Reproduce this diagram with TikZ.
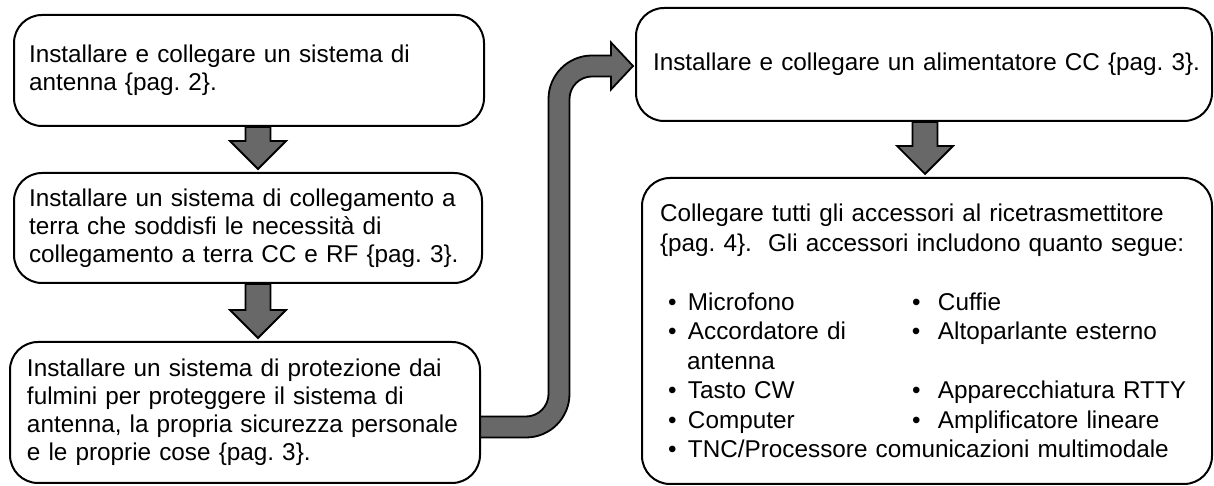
\documentclass[tikz,border=0pt]{standalone}
\usepackage{fontspec}
\setmainfont{Liberation Sans}
\usetikzlibrary{calc}
\pgfdeclarelayer{background}
\pgfsetlayers{background,main}
\definecolor{arrowgray}{RGB}{104,104,104}
\frenchspacing
\tikzset{
  stepbox/.style={draw=black, line width=2pt, fill=white, rounded corners=28pt,
    align=left, inner ysep=0pt, font=\fontsize{24.3}{28}\selectfont},
  fatarrow/.style={draw=black, fill=arrowgray, line width=1.8pt, line join=miter},
}
\newcommand\fatdown[3]{%
  \draw[fatarrow] let \p1=($(#1.south)+(#3,0)$), \p2=(#2.north) in
    (\x1-12.5pt,\y1) -- (\x1-12.5pt,\y2+31pt) -- (\x1-28pt,\y2+31pt) -- (\x1,\y2+3pt)
    -- (\x1+28pt,\y2+31pt) -- (\x1+12.5pt,\y2+31pt) -- (\x1+12.5pt,\y1) -- cycle;}
\newcommand\bitem[2]{\hspace*{8pt}\makebox[20pt][l]{•}\makebox[224pt][l]{#1}\makebox[26pt][l]{•}#2}
\begin{document}
\begin{tikzpicture}
\useasboundingbox (0pt,0pt) rectangle (1214pt,486pt);
\node[stepbox, minimum width=470pt, minimum height=111pt, text width=440pt, inner xsep=15pt]
  (b1) at (249pt,415.5pt) {Installare e collegare un sistema di\\antenna \{pag. 2\}.};
\node[stepbox, minimum width=468pt, minimum height=110pt, text width=438pt, inner xsep=15pt]
  (b2) at (248pt,258pt) {Installare un sistema di collegamento a\\terra che soddisfi le necessità di\\collegamento a terra CC e RF \{pag. 3\}.};
\node[stepbox, minimum width=470pt, minimum height=141pt, text width=436pt, inner xsep=17pt]
  (b3) at (245pt,73.5pt) {Installare un sistema di protezione dai\\fulmini per proteggere il sistema di\\antenna, la propria sicurezza personale\\e le proprie cose \{pag. 3\}.};
\node[stepbox, minimum width=576pt, minimum height=113pt, text width=542pt, inner xsep=17pt]
  (b4) at (924pt,421.5pt) {\mbox{Installare e collegare un alimentatore CC \{pag. 3\}.}};
\node[stepbox, minimum width=570pt, minimum height=306pt, text width=534pt, inner xsep=18pt,
  font=\fontsize{24.3}{29.5}\selectfont]
  (b5) at (927pt,155pt) {Collegare tutti gli accessori al ricetrasmettitore\\
  \{pag. 4\}.\ \ Gli accessori includono quanto segue:\\[29.5pt]
  \bitem{Microfono}{Cuffie}\\
  \bitem{Accordatore di}{Altoparlante esterno}\\
  \hspace*{27pt}antenna\\
  \bitem{Tasto CW}{Apparecchiatura RTTY}\\
  \bitem{Computer}{Amplificatore lineare}\\
  \hspace*{8pt}\makebox[20pt][l]{•}TNC/Processore comunicazioni multimodale};
\begin{pgfonlayer}{background}
\fatdown{b1}{b2}{9pt}
\fatdown{b2}{b3}{10pt}
\fatdown{b4}{b5}{1pt}
\coordinate (cs) at ($(b3.east)+(0,-14.5pt)$);
\coordinate (ce) at ($(b4.west)+(-2pt,-1.5pt)$);
\draw[fatarrow] let \p1=(cs), \p2=(ce) in
  (\x1-1pt,\y1+10.5pt) -- (\x1+45pt,\y1+10.5pt)
  arc[start angle=270, end angle=360, radius=22.5pt]
  -- (\x1+67.5pt,\y2-33pt)
  arc[start angle=180, end angle=90, radius=43.5pt]
  -- (\x2-22pt,\y2+10.5pt) -- (\x2-22pt,\y2+23.5pt) -- (\x2,\y2)
  -- (\x2-22pt,\y2-23.5pt) -- (\x2-22pt,\y2-10.5pt)
  -- (\x1+111pt,\y2-10.5pt)
  arc[start angle=90, end angle=180, radius=22.5pt]
  -- (\x1+88.5pt,\y1+33pt)
  arc[start angle=0, end angle=-90, radius=43.5pt]
  -- (\x1-1pt,\y1-10.5pt) -- cycle;
\end{pgfonlayer}
\end{tikzpicture}
\end{document}
